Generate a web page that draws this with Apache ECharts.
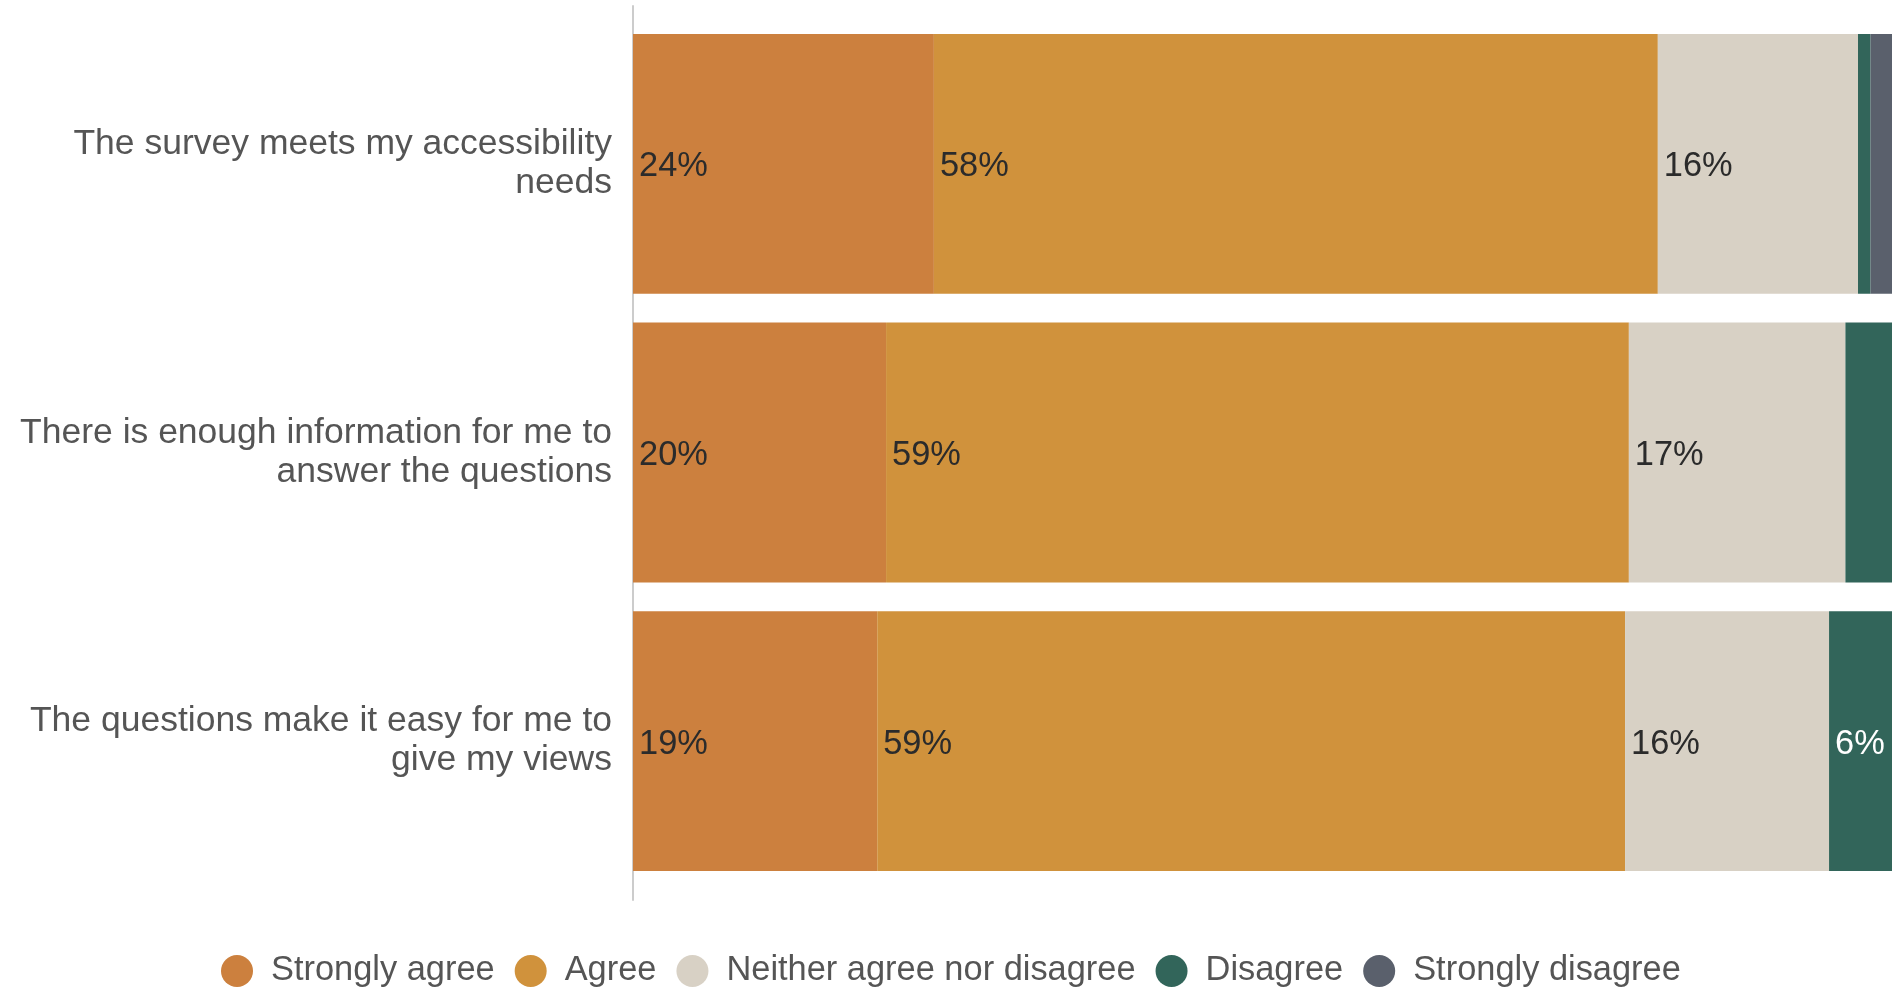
<!DOCTYPE html>
<html>
<head>
<meta charset="utf-8">
<script src="https://cdn.jsdelivr.net/npm/echarts@6/dist/echarts.min.js"></script>
<style>
html,body{margin:0;padding:0;background:#fff;}
#chart{width:1892px;height:987px;}
</style>
</head>
<body>
<div id="chart"></div>
<script>
const categories = [
  'The survey meets my accessibility\nneeds',
  'There is enough information for me to\nanswer the questions',
  'The questions make it easy for me to\ngive my views'
];
const seriesNames = ['Strongly agree', 'Agree', 'Neither agree nor disagree', 'Disagree', 'Strongly disagree'];
const stronglyAgree = [23.9, 20.1, 19.4];
const agree = [57.5, 59.0, 59.4];
const neither = [15.9, 17.2, 16.2];
const disagree = [1.0, 3.8, 5.6];
const stronglyDisagree = [1.7, 0, 0];

const colors = ['#CC803E', '#D0923C', '#D8D1C5', '#32655A', '#5A606C'];
const labelColors = ['#2b2b2b', '#2b2b2b', '#2b2b2b', '#ffffff', '#ffffff'];
const values = [stronglyAgree, agree, neither, disagree, stronglyDisagree];

const FONT = '"Liberation Sans", Arial, Helvetica, sans-serif';

const chart = echarts.init(document.getElementById('chart'), null, {renderer: 'canvas'});

const series = seriesNames.map((name, i) => ({
  name: name,
  type: 'bar',
  stack: 'total',
  xAxisIndex: 0,
  yAxisIndex: 0,
  clip: true,
  barCategoryGap: '10%',
  data: values[i],
  itemStyle: {color: colors[i]},
  label: {
    show: true,
    position: 'insideLeft',
    distance: 6,
    offset: [0, 3],
    fontFamily: FONT,
    fontSize: 34.4,
    color: labelColors[i],
    formatter: p => (p.value >= 5 ? Math.round(p.value) + '%' : '')
  },
  emphasis: {disabled: true}
}));

chart.setOption({
  animation: false,
  color: colors,
  textStyle: {fontFamily: FONT},
  grid: [
    {left: 633, right: 0, top: 19.5, bottom: 101.5, containLabel: false},
    {left: 633, width: 1, top: 6, bottom: 87, containLabel: false}
  ],
  xAxis: [
    {type: 'value', gridIndex: 0, min: 0, max: 100, show: false},
    {type: 'value', gridIndex: 1, min: 0, max: 1, show: false}
  ],
  yAxis: [
    {
      type: 'category',
      gridIndex: 0,
      data: categories,
      inverse: true,
      axisLine: {show: false},
      axisTick: {show: false},
      splitLine: {show: false},
      axisLabel: {
        fontFamily: FONT,
        fontSize: 35.5,
        color: '#555555',
        lineHeight: 39,
        margin: 21,
        align: 'right',
        padding: [10, 0, 0, 0]
      }
    },
    {
      type: 'category',
      gridIndex: 1,
      data: [''],
      axisLine: {show: true, lineStyle: {color: '#cccccc', width: 2}},
      axisTick: {show: false},
      axisLabel: {show: false},
      splitLine: {show: false}
    }
  ],
  legend: {
    data: seriesNames,
    left: 221,
    top: 954,
    padding: 0,
    icon: 'circle',
    itemWidth: 32,
    itemHeight: 32,
    itemGap: 20,
    textStyle: {
      fontFamily: FONT,
      fontSize: 34.4,
      color: '#555555',
      padding: [0, 0, 0, 13]
    }
  },
  series: series
});
</script>
</body>
</html>
